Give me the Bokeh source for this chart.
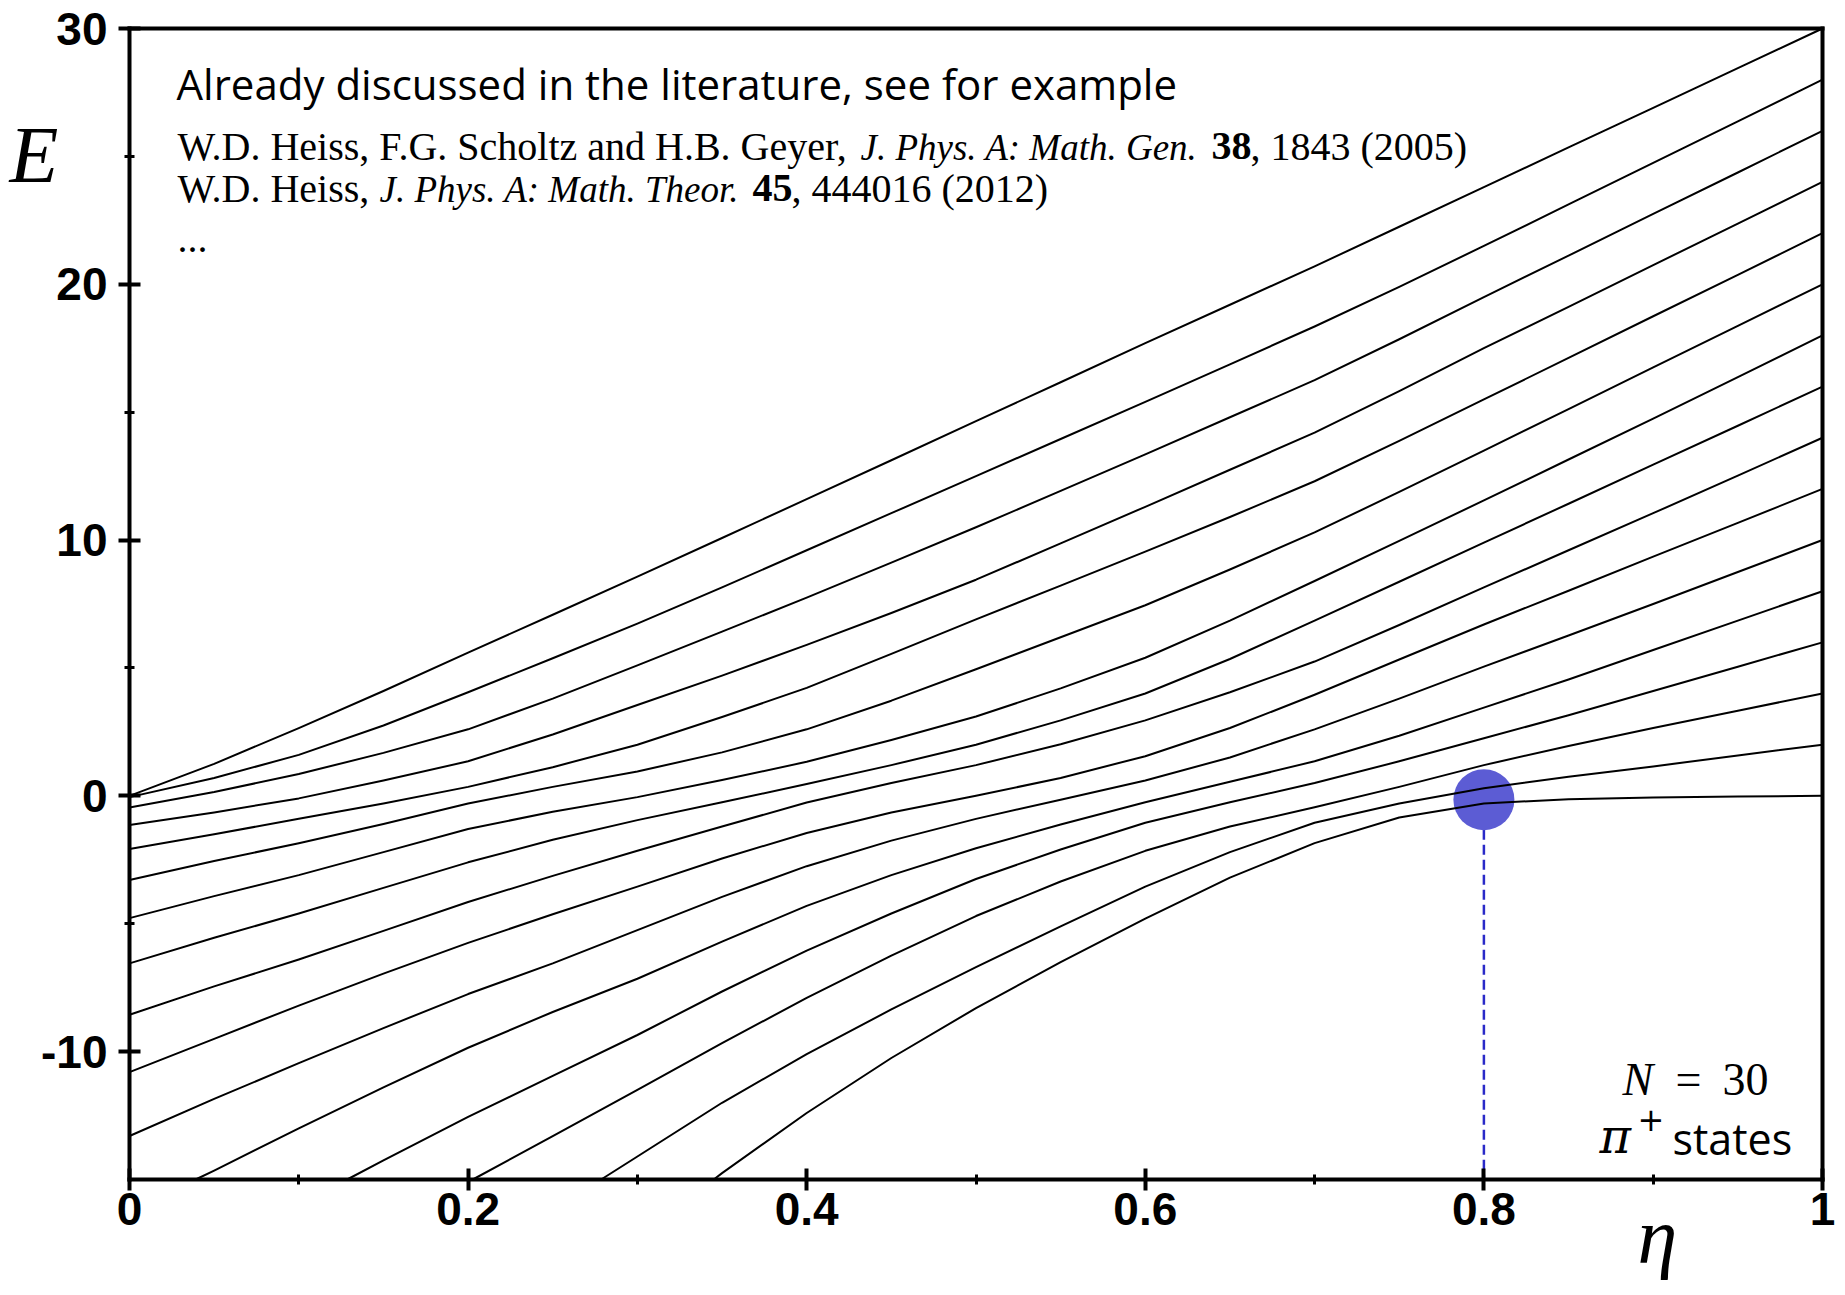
from bokeh.plotting import figure
from bokeh.models import Range1d, FixedTicker, Label, LinearAxis
from bokeh.embed import file_html
from bokeh.resources import INLINE

# ---------------- data ----------------
ETA = [0.0, 0.05, 0.1, 0.15, 0.2, 0.25, 0.3, 0.35, 0.4, 0.45, 0.5,
       0.55, 0.6, 0.65, 0.7, 0.75, 0.8, 0.85, 0.9, 0.95, 1.0]

E00 = [-32.3, -29.8, -27.3, -24.8, -22.3, -19.8, -17.3, -14.75, -12.4, -10.25, -8.3,
       -6.5, -4.8, -3.2, -1.85, -0.85, -0.3, -0.13, -0.07, -0.03, 0.0]
E01 = [-26.7, -24.6, -22.5, -20.4, -18.3, -16.2, -14.1, -12.0, -10.1, -8.35, -6.7,
       -5.1, -3.55, -2.2, -1.05, -0.3, 0.3, 0.75, 1.15, 1.58, 2.0]
E02 = [-22.3, -20.5, -18.7, -16.9, -15.1, -13.3, -11.5, -9.67, -7.9, -6.25, -4.7,
       -3.35, -2.15, -1.2, -0.45, 0.35, 1.2, 1.95, 2.65, 3.33, 4.0]
E03 = [-20.5, -18.6, -16.0, -14.25, -12.55, -10.95, -9.35, -7.65, -6.05, -4.6, -3.25,
       -2.1, -1.05, -0.25, 0.5, 1.35, 2.25, 3.15, 4.1, 5.05, 6.0]
E04 = [-16.25, -14.65, -13.0, -11.4, -9.85, -8.45, -7.15, -5.7, -4.3, -3.1, -2.05,
       -1.12, -0.25, 0.55, 1.35, 2.35, 3.45, 4.55, 5.7, 6.85, 8.0]
E05 = [-13.3, -11.85, -10.45, -9.08, -7.75, -6.55, -5.25, -3.95, -2.75, -1.75, -0.9,
       -0.15, 0.6, 1.5, 2.6, 3.8, 5.05, 6.27, 7.5, 8.75, 10.0]
E06 = [-10.8, -9.5, -8.2, -6.95, -5.75, -4.63, -3.55, -2.45, -1.45, -0.65, 0.0,
       0.7, 1.55, 2.65, 3.95, 5.33, 6.7, 8.02, 9.35, 10.67, 12.0]
E07 = [-8.56, -7.45, -6.4, -5.28, -4.15, -3.13, -2.15, -1.2, -0.26, 0.5, 1.2,
       2.02, 2.95, 4.05, 5.25, 6.68, 8.15, 9.6, 11.05, 12.52, 14.0]
E08 = [-6.55, -5.55, -4.6, -3.6, -2.6, -1.72, -0.95, -0.25, 0.46, 1.2, 2.0,
       2.95, 4.0, 5.35, 6.85, 8.37, 9.9, 11.42, 12.95, 14.47, 16.0]
E09 = [-4.78, -3.92, -3.1, -2.2, -1.3, -0.62, -0.05, 0.62, 1.33, 2.18, 3.1,
       4.2, 5.4, 6.85, 8.4, 9.97, 11.55, 13.15, 14.75, 16.37, 18.0]
E10 = [-3.29, -2.55, -1.85, -1.1, -0.3, 0.35, 0.95, 1.7, 2.6, 3.72, 4.95,
       6.2, 7.45, 8.85, 10.3, 11.88, 13.5, 15.12, 16.75, 18.37, 20.0]
E11 = [-2.08, -1.5, -0.9, -0.3, 0.35, 1.12, 2.0, 3.08, 4.22, 5.55, 6.9,
       8.22, 9.55, 10.9, 12.3, 13.88, 15.5, 17.12, 18.75, 20.37, 22.0]
E12 = [-1.14, -0.65, -0.1, 0.6, 1.35, 2.4, 3.55, 4.7, 5.9, 7.15, 8.45,
       9.87, 11.3, 12.75, 14.2, 15.82, 17.5, 19.12, 20.75, 22.37, 24.0]
E13 = [-0.46, 0.15, 0.85, 1.68, 2.6, 3.8, 5.1, 6.42, 7.75, 9.12, 10.5,
       11.92, 13.35, 14.8, 16.25, 17.85, 19.5, 21.12, 22.75, 24.37, 26.0]
E14 = [-0.05, 0.7, 1.6, 2.75, 4.05, 5.38, 6.73, 8.15, 9.6, 11.05, 12.5,
       13.95, 15.4, 16.87, 18.35, 19.9, 21.5, 23.12, 24.75, 26.37, 28.0]
E15 = [0.0, 1.25, 2.65, 4.1, 5.6, 7.08, 8.57, 10.08, 11.6, 13.12, 14.65,
       16.17, 17.7, 19.2, 20.7, 22.25, 23.8, 25.35, 26.9, 28.45, 30.0]

LEVELS = [E00, E01, E02, E03, E04, E05, E06, E07, E08, E09, E10, E11, E12, E13, E14, E15]

# exceptional point marker
EP_ETA = [0.8]
EP_E = [-0.15]

X_TICKS = [0.0, 0.2, 0.4, 0.6, 0.8, 1.0]
X_TICK_LABELS = ["0", "0.2", "0.4", "0.6", "0.8", "1"]
X_MINOR = [0.1, 0.3, 0.5, 0.7, 0.9]
Y_TICKS = [-10, 0, 10, 20, 30]
Y_TICK_LABELS = ["-10", "0", "10", "20", "30"]
Y_MINOR = [-5, 5, 15, 25]

X_MIN, X_MAX = 0.0, 1.0
Y_MIN, Y_MAX = -15.0, 30.0

# ---------------- layout (page pixels) ----------------
W, H = 1840, 1290
PX_L, PX_R = 129, 1822      # x = X_MIN, X_MAX
PX_T, PX_B = 28, 1179       # y = Y_MAX, Y_MIN
SX = (PX_R - PX_L) / (X_MAX - X_MIN)
SY = (PX_B - PX_T) / (Y_MAX - Y_MIN)

x_range = Range1d(X_MIN - PX_L / SX, X_MIN + (W - PX_L) / SX)
y_range = Range1d(Y_MIN - (H - PX_B) / SY, Y_MAX + PX_T / SY)

p = figure(width=W, height=H, x_range=x_range, y_range=y_range,
           output_backend="svg", toolbar_location=None, min_border=0,
           min_border_left=0, min_border_right=0, min_border_top=0, min_border_bottom=0)
p.title.visible = False
p.grid.visible = False
p.background_fill_color = "white"
p.border_fill_color = "white"
p.outline_line_color = None


def ex(px):
    return X_MIN + (px - PX_L) / SX


def ey(py):
    return Y_MAX - (py - PX_T) / SY


def style_axis(ax):
    ax.axis_line_width = 4
    ax.axis_line_color = "black"
    ax.axis_line_cap = "square"
    ax.major_tick_line_width = 4
    ax.major_tick_line_color = "black"
    ax.major_tick_out = 11
    ax.major_tick_in = 11
    ax.minor_tick_line_width = 3
    ax.minor_tick_line_color = "black"
    ax.minor_tick_out = 5
    ax.minor_tick_in = 5
    ax.major_label_text_font = "Liberation Sans"
    ax.major_label_text_font_style = "bold"
    ax.major_label_text_font_size = "46px"
    ax.major_label_text_color = "black"


xax = p.below[0]
yax = p.left[0]
style_axis(xax)
style_axis(yax)
xax.ticker = FixedTicker(ticks=X_TICKS, minor_ticks=X_MINOR)
yax.ticker = FixedTicker(ticks=Y_TICKS, minor_ticks=Y_MINOR)
xax.major_label_overrides = {t: s for t, s in zip(X_TICKS, X_TICK_LABELS)}
yax.major_label_overrides = {t: s for t, s in zip(Y_TICKS, Y_TICK_LABELS)}
xax.fixed_location = Y_MIN
yax.fixed_location = X_MIN
xax.bounds = (X_MIN, X_MAX)
yax.bounds = (Y_MIN, Y_MAX)
xax.major_label_standoff = 2
yax.major_label_standoff = 11

# top and right frame lines
top_ax = LinearAxis(fixed_location=Y_MAX, bounds=(X_MIN, X_MAX), ticker=FixedTicker(ticks=[]),
                    axis_line_width=4, axis_line_color="black", axis_line_cap="square",
                    major_tick_in=0, major_tick_out=0, minor_tick_in=0, minor_tick_out=0)
right_ax = LinearAxis(fixed_location=X_MAX, bounds=(Y_MIN, Y_MAX), ticker=FixedTicker(ticks=[]),
                      axis_line_width=4, axis_line_color="black", axis_line_cap="square",
                      major_tick_in=0, major_tick_out=0, minor_tick_in=0, minor_tick_out=0)
p.add_layout(top_ax, "above")
p.add_layout(right_ax, "right")


def clip_below(xs, ys, lo):
    ox, oy = [], []
    for i in range(len(xs)):
        if ys[i] >= lo:
            if i > 0 and ys[i - 1] < lo:
                t = (lo - ys[i - 1]) / (ys[i] - ys[i - 1])
                ox.append(xs[i - 1] + t * (xs[i] - xs[i - 1]))
                oy.append(lo)
            ox.append(xs[i])
            oy.append(ys[i])
    return ox, oy


# dashed drop line and marker
p.segment(x0=EP_ETA, y0=EP_E, x1=EP_ETA, y1=[Y_MIN] * len(EP_ETA),
          line_color="#2a2ac8", line_width=2.5, line_dash="10 5")
p.scatter(EP_ETA, EP_E, size=61, fill_color="#5c5cd4", fill_alpha=1.0, line_color=None)

# energy levels
for lev in LEVELS:
    cx, cy = clip_below(ETA, lev, Y_MIN)
    p.line(cx, cy, line_color="black", line_width=2, line_join="round")

# ---------------- texts ----------------
SANS = "Open Sans"
SERIF = "Liberation Serif"
BASE_SHIFT = 0.36   # measured offset of rendered baseline, in em


def lab(px, py, text, font, size, style="normal"):
    p.add_layout(Label(x=ex(px), y=ey(py - BASE_SHIFT * size), text=text, text_font=font,
                       text_font_size=f"{size}px", text_font_style=style, text_color="black",
                       text_align="left", text_baseline="alphabetic"))


lab(176, 98, "Already discussed in the literature, see for example", SANS, 42)

CS = 40
CI = 37
lab(177, 160, "W.D. Heiss, F.G. Scholtz and H.B. Geyer,", SERIF, CS)
lab(860, 160, "J. Phys. A: Math. Gen.", SERIF, CI, "italic")
lab(1211, 160, "38", SERIF, CS, "bold")
lab(1250, 160, ", 1843 (2005)", SERIF, CS)

lab(177, 202, "W.D. Heiss,", SERIF, CS)
lab(379, 202, "J. Phys. A: Math. Theor.", SERIF, CI, "italic")
lab(752, 202, "45", SERIF, CS, "bold")
lab(791, 202, ", 444016 (2012)", SERIF, CS)

lab(177, 253, "...", SERIF, CS)

lab(9, 183, "E", SERIF, 80, "italic")
lab(1637, 1264, "η", SERIF, 80, "italic")

lab(1622, 1096, "N", SERIF, 46, "italic")
lab(1675, 1096, "=", SERIF, 46)
lab(1722, 1096, "30", SERIF, 46)

lab(1599, 1153, "π", "DejaVu Serif", 48, "italic")
lab(1637, 1131, "+", "DejaVu Sans", 32)
lab(1672, 1153, "states", SANS, 43)

open("out.html", "w").write(file_html(p, INLINE))
